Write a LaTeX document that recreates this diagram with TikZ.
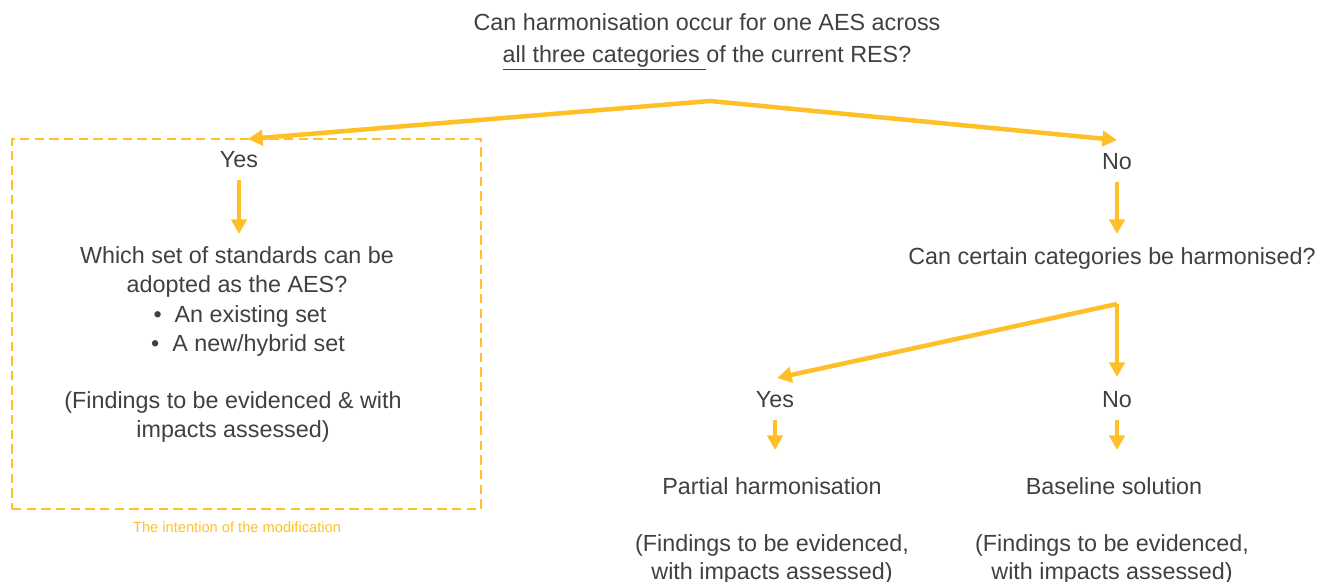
\documentclass[tikz,border=0pt]{standalone}
\usepackage{fontspec}
\setmainfont{Liberation Sans}
\usetikzlibrary{arrows.meta}
\definecolor{amber}{HTML}{FFC027}
\definecolor{ink}{HTML}{404040}
\begin{document}
\begin{tikzpicture}[x=0.75pt,y=-0.75pt,
  txt/.style={text=ink,font=\fontsize{17.5}{21.75}\selectfont,align=center,inner sep=0pt},
  note/.style={text=amber,font=\fontsize{11}{13}\selectfont,inner sep=0pt},
  flow/.style={draw=amber,line width=3.4pt,-{Triangle[length=11pt,width=11.5pt]},line join=miter},
  frame/.style={draw=amber,line width=1.5pt,dash pattern=on 7pt off 4pt}]
\useasboundingbox (0,0) rectangle (1318,582);
% title
\node[txt,font=\fontsize{17.5}{24}\selectfont] (q1) at (707,41.5) {Can harmonisation occur for one AES across\\\underline{all three categories\ }of the current RES?};
\coordinate (apex) at (710,101);
\coordinate (tipL) at (248,139);
\coordinate (tipR) at (1117,140);
\draw[flow] (apex) -- (tipL);
\draw[flow] (apex) -- (tipR);
% left branch
\node[frame,minimum width=469*0.75pt,minimum height=370*0.75pt] (box) at (246.5,324) {};
\node[txt] (yes1) at (239,160) {Yes};
\node[txt] (which) at (237,272) {Which set of standards can be\\adopted as the AES?};
\node[txt] (b1) at (240,316) {•\ \ An existing set};
\node[txt] (b2) at (248,345) {•\ \ A new/hybrid set};
\node[txt] (find1) at (233,417) {(Findings to be evidenced \& with\\impacts assessed)};
\node[note] (int) at (237,527) {The intention of the modification};
\coordinate (y1s) at (239,180);
\coordinate (y1e) at (239,234);
\draw[flow] (y1s) -- (y1e);
% right branch
\node[txt] (no1) at (1117,162) {No};
\node[txt] (cat) at (1112,258) {Can certain categories be harmonised?};
\coordinate (n1s) at (1117,182);
\coordinate (n1e) at (1117,234);
\draw[flow] (n1s) -- (n1e);
\coordinate (apex2) at (1117,304);
\coordinate (tipY) at (777,378);
\coordinate (tipN) at (1117,377);
\draw[flow] (apex2) -- (tipY);
\draw[flow] (apex2) -- (tipN);
\node[txt] (yes2) at (775,400) {Yes};
\node[txt] (no2) at (1117,400) {No};
\node[txt] (part) at (772,486) {Partial harmonisation};
\node[txt] (base) at (1114,486) {Baseline solution};
\coordinate (y2s) at (775,420);
\coordinate (y2e) at (775,450);
\coordinate (n2s) at (1117,420);
\coordinate (n2e) at (1117,450);
\draw[flow] (y2s) -- (y2e);
\draw[flow] (n2s) -- (n2e);
\node[txt,font=\fontsize{17.5}{20.5}\selectfont] (find2) at (772,559.5) {(Findings to be evidenced,\\with impacts assessed)};
\node[txt,font=\fontsize{17.5}{20.5}\selectfont] (find3) at (1112,559.5) {(Findings to be evidenced,\\with impacts assessed)};
\end{tikzpicture}
\end{document}
